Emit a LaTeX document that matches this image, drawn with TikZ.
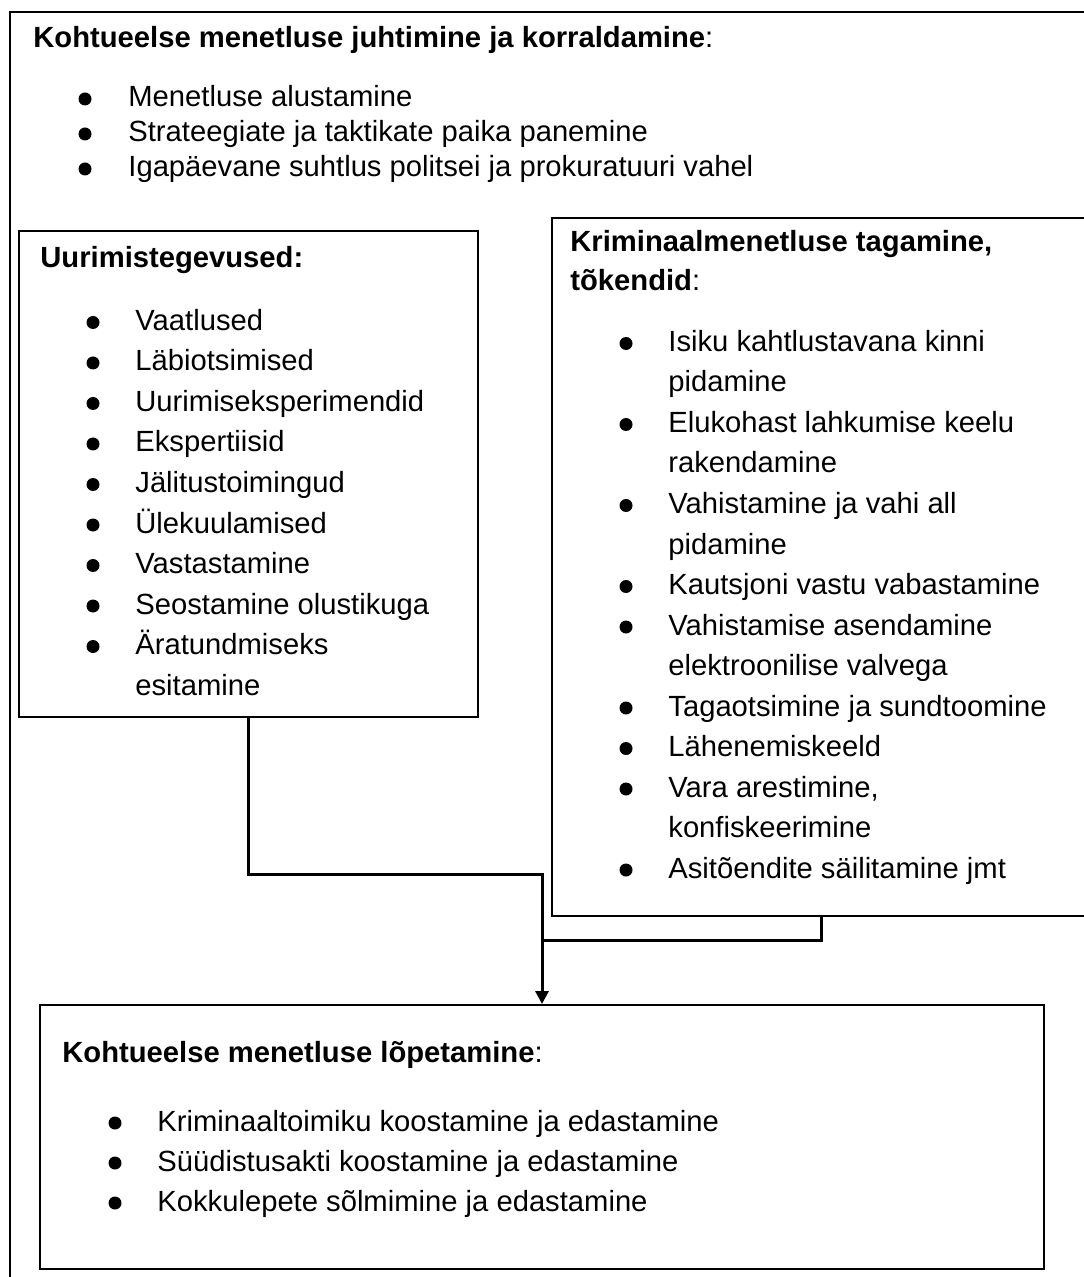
\documentclass[tikz,border=0pt]{standalone}
\usepackage{fontspec}
\setmainfont{Liberation Sans}
\usetikzlibrary{arrows.meta}
\tikzset{box/.style={draw,line width=1pt,anchor=north west,inner sep=0pt},
         txt/.style={anchor=base west,inner sep=0pt,font=\fontsize{14.6pt}{17pt}\selectfont},
         link/.style={line width=1.5pt},
            }

\begin{document}
\begin{tikzpicture}[x=0.5pt,y=-0.5pt]
\useasboundingbox (0,0) rectangle (1083,1277);
% outer frame
\draw[line width=1pt] (1100,12) -- (10,12) -- (10,1290);
\node[txt] (juht-t) at (33,48) {\textbf{Kohtueelse menetluse juhtimine ja korraldamine}:};
\foreach \t [count=\i] in {Menetluse alustamine, Strateegiate ja taktikate paika panemine, Igapäevane suhtlus politsei ja prokuratuuri vahel}{
  \node[txt] (juht-\i) at (128,72+35*\i) {\t};
  \fill (85,64+35*\i) circle (3.25pt);
}

% left box
\node[box,minimum width=229.5pt,minimum height=243pt] (uurim) at (18,230) {};
\node[txt] (uurim-t) at (40,268) {\textbf{Uurimistegevused:}};
\foreach \b/\t [count=\i] in {1/Vaatlused, 1/Läbiotsimised, 1/Uurimiseksperimendid, 1/Ekspertiisid, 1/Jälitustoimingud, 1/Ülekuulamised, 1/Vastastamine, 1/Seostamine olustikuga, 1/Äratundmiseks, 0/esitamine}{
  \node[txt] (uurim-\i) at (135,290+40.5*\i) {\t};
  \ifnum\b=1 \fill (93,282+40.5*\i) circle (3.25pt);\fi
}

% right box
\node[box,minimum width=269.5pt,minimum height=349pt] (tagam) at (551,217) {};
\node[txt] (tagam-t1) at (570,252) {\textbf{Kriminaalmenetluse tagamine,}};
\node[txt] (tagam-t2) at (570,291) {\textbf{tõkendid}:};
\foreach \b/\t [count=\i] in {1/Isiku kahtlustavana kinni, 0/pidamine, 1/Elukohast lahkumise keelu, 0/rakendamine, 1/Vahistamine ja vahi all, 0/pidamine, 1/Kautsjoni vastu vabastamine, 1/Vahistamise asendamine, 0/elektroonilise valvega, 1/Tagaotsimine ja sundtoomine, 1/Lähenemiskeeld, 1/{Vara arestimine,}, 0/konfiskeerimine, 1/Asitõendite säilitamine jmt}{
  \node[txt] (tagam-\i) at (668,311+40.5*\i) {\t};
  \ifnum\b=1 \fill (626,303+40.5*\i) circle (3.25pt);\fi
}

% bottom box
\node[box,minimum width=502pt,minimum height=132pt] (lopet) at (39,1004) {};
\node[txt] (lopet-t) at (62,1062) {\textbf{Kohtueelse menetluse lõpetamine}:};
\foreach \t [count=\i] in {Kriminaaltoimiku koostamine ja edastamine, Süüdistusakti koostamine ja edastamine, Kokkulepete sõlmimine ja edastamine}{
  \node[txt] (lopet-\i) at (157,1091+40*\i) {\t};
  \fill (115,1083+40*\i) circle (3.25pt);
}

\coordinate (joinR) at (0,940);
\draw[link,-{Triangle[length=6.5pt,width=6.5pt]}] (uurim.south) -- ++(0,156) -| (lopet.north);
\draw[link] (tagam.south) |- (lopet.north |- joinR);
\end{tikzpicture}
\end{document}
